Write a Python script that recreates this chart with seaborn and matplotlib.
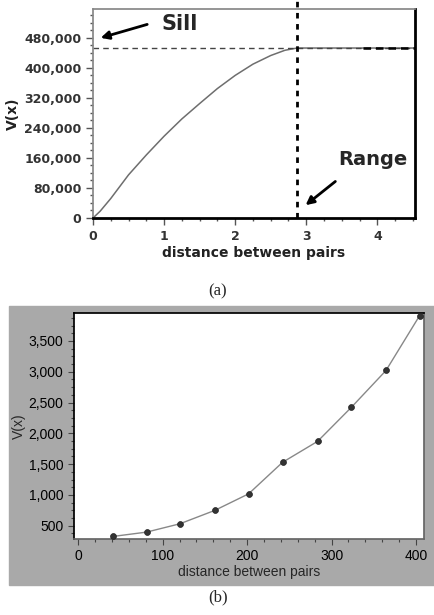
import matplotlib
matplotlib.use('Agg')
import matplotlib.pyplot as plt
import matplotlib.ticker as mticker
import matplotlib.patches as mpatches
import seaborn as sns
import pandas as pd

# ==========================================
# 数据
# ==========================================
# (a) 球状变差函数曲线
dist_a = [0.0, 0.1, 0.25, 0.5, 0.75, 1.0, 1.25, 1.5, 1.75, 2.0, 2.25, 2.5, 2.7, 2.87, 4.53]
vx_a = [0, 18000, 52000, 115000, 168000, 218000, 264000, 305000, 345000, 380000,
        410000, 433000, 447000, 453000, 453000]
sill_value = 453000
range_value = 2.87

# (b) 实验变差函数点
dist_b = [41.5, 81, 120.4, 161.5, 201.8, 242, 283.5, 323.4, 364.5, 404.3]
vx_b = [327, 397, 532, 748, 1018, 1530, 1870, 2421, 3020, 3910]

df_a = pd.DataFrame({'dist': dist_a, 'vx': vx_a})
df_b = pd.DataFrame({'dist': dist_b, 'vx': vx_b})

sns.set_theme(style='white')
plt.rcParams['font.family'] = ['DejaVu Sans']

fig = plt.figure(figsize=(4.35, 6.15), dpi=100)
W, H = 435, 615


def box(l, t, r, b):
    return [l / W, 1 - b / H, (r - l) / W, (b - t) / H]


# ------------------------------------------
# 图 (a)
# ------------------------------------------
ax1 = fig.add_axes(box(93, 9, 415, 218))
sns.lineplot(data=df_a, x='dist', y='vx', ax=ax1, color='#6e6e6e', linewidth=1.1)
ax1.axhline(sill_value, xmin=0, xmax=1, color='#444444', linestyle=(0, (4, 3)), linewidth=1)
ax1.hlines(sill_value, 3.8, 4.53, color='black', linestyle=(0, (3, 2)), linewidth=1.8)
ax1.axvline(range_value, ymin=0, ymax=1.045, color='black', linestyle=(0, (2, 2)),
            linewidth=2, clip_on=False)
ax1.set_xlim(0, 4.53)
ax1.set_ylim(0, 557000)
ax1.xaxis.set_major_locator(mticker.MultipleLocator(1))
ax1.xaxis.set_minor_locator(mticker.MultipleLocator(0.25))
ax1.yaxis.set_major_locator(mticker.MultipleLocator(80000))
ax1.yaxis.set_minor_locator(mticker.MultipleLocator(20000))
ax1.yaxis.set_major_formatter(mticker.FuncFormatter(lambda v, p: f'{int(v):,}'))
ax1.tick_params(which='both', direction='out', colors='#555555', labelcolor='#333333',
                left=True, bottom=True, labelsize=9)
ax1.tick_params(which='major', length=5, width=1)
ax1.tick_params(which='minor', length=2.5, width=1)
for lab in ax1.get_xticklabels() + ax1.get_yticklabels():
    lab.set_fontweight('bold')
ax1.set_xlabel('distance between pairs', fontsize=10, fontweight='bold', color='#222222', labelpad=2)
ax1.set_ylabel('V(x)', fontsize=10, fontweight='bold', color='#222222', labelpad=3)
ax1.spines['top'].set_color('#888888')
ax1.spines['left'].set_color('#888888')
ax1.spines['right'].set_color('black')
ax1.spines['bottom'].set_color('black')
ax1.spines['right'].set_linewidth(2)
ax1.spines['bottom'].set_linewidth(2)

arrow = dict(arrowstyle='-|>', color='black', lw=2, mutation_scale=12)
ax1.annotate('', xy=(0.07, 478000), xytext=(0.80, 518000), arrowprops=arrow)
ax1.text(0.97, 518000, 'Sill', fontsize=15, fontweight='bold', va='center', ha='left')
ax1.annotate('', xy=(2.96, 29500), xytext=(3.44, 102000), arrowprops=arrow)
ax1.text(3.45, 155700, 'Range', fontsize=14, fontweight='bold', va='center', ha='left')

fig.text(218 / W, 1 - 291 / H, '(a)', fontsize=12, family='Liberation Serif',
         ha='center', va='center')

# ------------------------------------------
# 图 (b)
# ------------------------------------------
fig.patches.append(mpatches.Rectangle((9 / W, 1 - 585 / H), 426 / W, 279 / H,
                                      transform=fig.transFigure, color='#a9a9a9', zorder=-5))
ax2 = fig.add_axes(box(74, 313, 424, 539))
ax2.set_zorder(2)
sns.lineplot(data=df_b, x='dist', y='vx', ax=ax2, color='#888888', linewidth=1)
sns.scatterplot(data=df_b, x='dist', y='vx', ax=ax2, color='#333333', s=18,
                edgecolor='#222222', linewidth=0.5, zorder=3)
ax2.set_xlim(-5, 409.5)
ax2.set_ylim(285, 3953)
ax2.xaxis.set_major_locator(mticker.MultipleLocator(100))
ax2.xaxis.set_minor_locator(mticker.MultipleLocator(20))
ax2.yaxis.set_major_locator(mticker.MultipleLocator(500))
ax2.yaxis.set_minor_locator(mticker.MultipleLocator(125))
ax2.yaxis.set_major_formatter(mticker.FuncFormatter(lambda v, p: f'{int(v):,}'))
ax2.tick_params(which='both', direction='out', colors='#444444', labelcolor='black',
                left=True, bottom=True, labelsize=10)
ax2.tick_params(which='major', length=4, width=0.8)
ax2.tick_params(which='minor', length=2, width=0.8)
for lab in ax2.get_xticklabels() + ax2.get_yticklabels():
    lab.set_family('Liberation Sans')
ax2.set_xlabel('distance between pairs', fontsize=10, family='Liberation Sans', labelpad=1)
ax2.set_ylabel('V(x)', fontsize=10, family='Liberation Sans', labelpad=2)
ax2.spines['top'].set_color('black')
ax2.spines['left'].set_color('black')
ax2.spines['right'].set_color('#666666')
ax2.spines['bottom'].set_color('#666666')

fig.text(218 / W, 1 - 597 / H, '(b)', fontsize=12, family='Liberation Serif',
         ha='center', va='center')

fig.savefig('out.png', dpi=100)
